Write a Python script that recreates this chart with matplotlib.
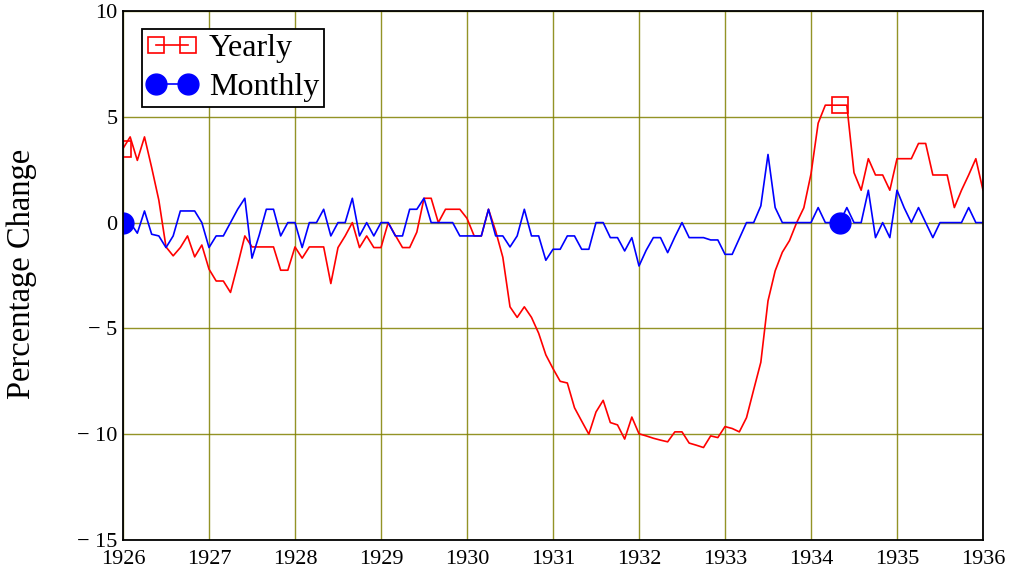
import numpy as np
import matplotlib
matplotlib.use("Agg")
import matplotlib.pyplot as plt

plt.rcParams['font.family'] = ['Liberation Serif', 'DejaVu Serif']

# monthly percentage changes, Jan 1926 .. Jan 1936
yearly = [
    3.5, 4.05, 2.94, 4.05, 2.6, 1.06, -1.15, -1.57, -1.18, -0.63,
    -1.62, -1.06, -2.2, -2.76, -2.76, -3.3, -2.0, -0.63, -1.15, -1.15,
    -1.15, -1.15, -2.25, -2.25, -1.15, -1.68, -1.15, -1.15, -1.15, -2.88,
    -1.18, -0.63, 0.0, -1.18, -0.63, -1.18, -1.18, 0.0, -0.6, -1.18,
    -1.18, -0.45, 1.15, 1.15, 0.0, 0.63, 0.63, 0.63, 0.2, -0.63,
    -0.63, 0.63, -0.4, -1.64, -3.98, -4.48, -3.98, -4.48, -5.23, -6.25,
    -6.9, -7.5, -7.58, -8.75, -9.38, -10.0, -8.95, -8.4, -9.45, -9.56,
    -10.23, -9.19, -9.98, -10.08, -10.19, -10.28, -10.36, -9.89, -9.89, -10.42,
    -10.52, -10.63, -10.08, -10.16, -9.64, -9.73, -9.89, -9.22, -7.9, -6.6,
    -3.7, -2.28, -1.4, -0.85, 0.0, 0.7, 2.3, 4.7, 5.55, 5.55,
    5.55, 5.55, 2.36, 1.53, 3.02, 2.25, 2.25, 1.53, 3.02, 3.02,
    3.02, 3.74, 3.74, 2.25, 2.25, 2.25, 0.71, 1.53, 2.25, 3.02,
    1.53,
]

monthly = [
    0, 0, -0.5, 0.55, -0.55, -0.63, -1.18, -0.63, 0.55, 0.55,
    0.55, 0, -1.18, -0.63, -0.63, 0, 0.63, 1.15, -1.68, -0.6,
    0.63, 0.63, -0.63, 0, 0, -1.18, 0, 0, 0.63, -0.63,
    0, 0, 1.15, -0.63, 0, -0.63, 0, 0, -0.63, -0.63,
    0.63, 0.63, 1.15, 0, 0, 0, 0, -0.63, -0.63, -0.63,
    -0.63, 0.63, -0.63, -0.63, -1.15, -0.63, 0.63, -0.63, -0.63, -1.78,
    -1.26, -1.26, -0.63, -0.63, -1.26, -1.26, 0, 0, -0.71, -0.71,
    -1.34, -0.71, -2.05, -1.31, -0.71, -0.71, -1.42, -0.68, 0, -0.71,
    -0.71, -0.71, -0.82, -0.82, -1.5, -1.5, -0.75, 0, 0, 0.79,
    3.22, 0.71, 0, 0, 0, 0, 0, 0.71, 0, 0,
    0, 0.71, 0, 0, 1.53, -0.71, 0, -0.71, 1.53, 0.7,
    0, 0.71, 0, -0.71, 0, 0, 0, 0, 0.71, 0,
    0,
]

start_year = 1926
years = list(range(1926, 1937))
yticks = [-15, -10, -5, 0, 5, 10]
ytick_labels = ["\u2212 15", "\u2212 10", "\u2212 5", "0", "5", "10"]

t = start_year + np.arange(len(yearly)) / 12.0

fig = plt.figure(figsize=(10.16, 5.75), dpi=100, facecolor='white')
ax = fig.add_axes([123 / 1016, 1 - 540 / 575, 860 / 1016, 529 / 575])

ax.plot(t, yearly, color='#ff0000', lw=1.2, marker='s', markersize=11,
        markerfacecolor='none', markeredgecolor='#ff0000', markeredgewidth=1.2,
        markevery=100, label='Yearly')
ax.plot(t, monthly, color='#0000ff', lw=1.2, marker='o', markersize=15,
        markerfacecolor='#0000ff', markeredgecolor='#0000ff',
        markevery=100, label='Monthly')

ax.set_xlim(1926, 1936)
ax.set_ylim(-15, 10)
ax.set_xticks(years)
ax.set_xticklabels([str(y) for y in years], fontsize=16)
ax.set_yticks(yticks)
ax.set_yticklabels(ytick_labels, fontsize=16)
ax.tick_params(axis='y', length=0, pad=4)
ax.tick_params(axis='x', length=0, pad=7)

ax.grid(True, color='#808000', lw=1.0, alpha=0.85)
ax.set_axisbelow(True)
for s in ax.spines.values():
    s.set_linewidth(1.3)
    s.set_color('black')

leg = ax.legend(loc='upper left', bbox_to_anchor=(0.0217, 0.9654),
                borderaxespad=0, fontsize=23, numpoints=2, handlelength=1.6,
                handletextpad=0.35, borderpad=0.15, labelspacing=0.3,
                fancybox=False, framealpha=1, edgecolor='black')
leg.get_frame().set_linewidth(1.3)

fig.text(22 / 1016, 1 - 274 / 575, 'Percentage Change', rotation=90,
         ha='center', va='center', fontsize=23.5)

fig.savefig('out.png', dpi=100, facecolor='white')
